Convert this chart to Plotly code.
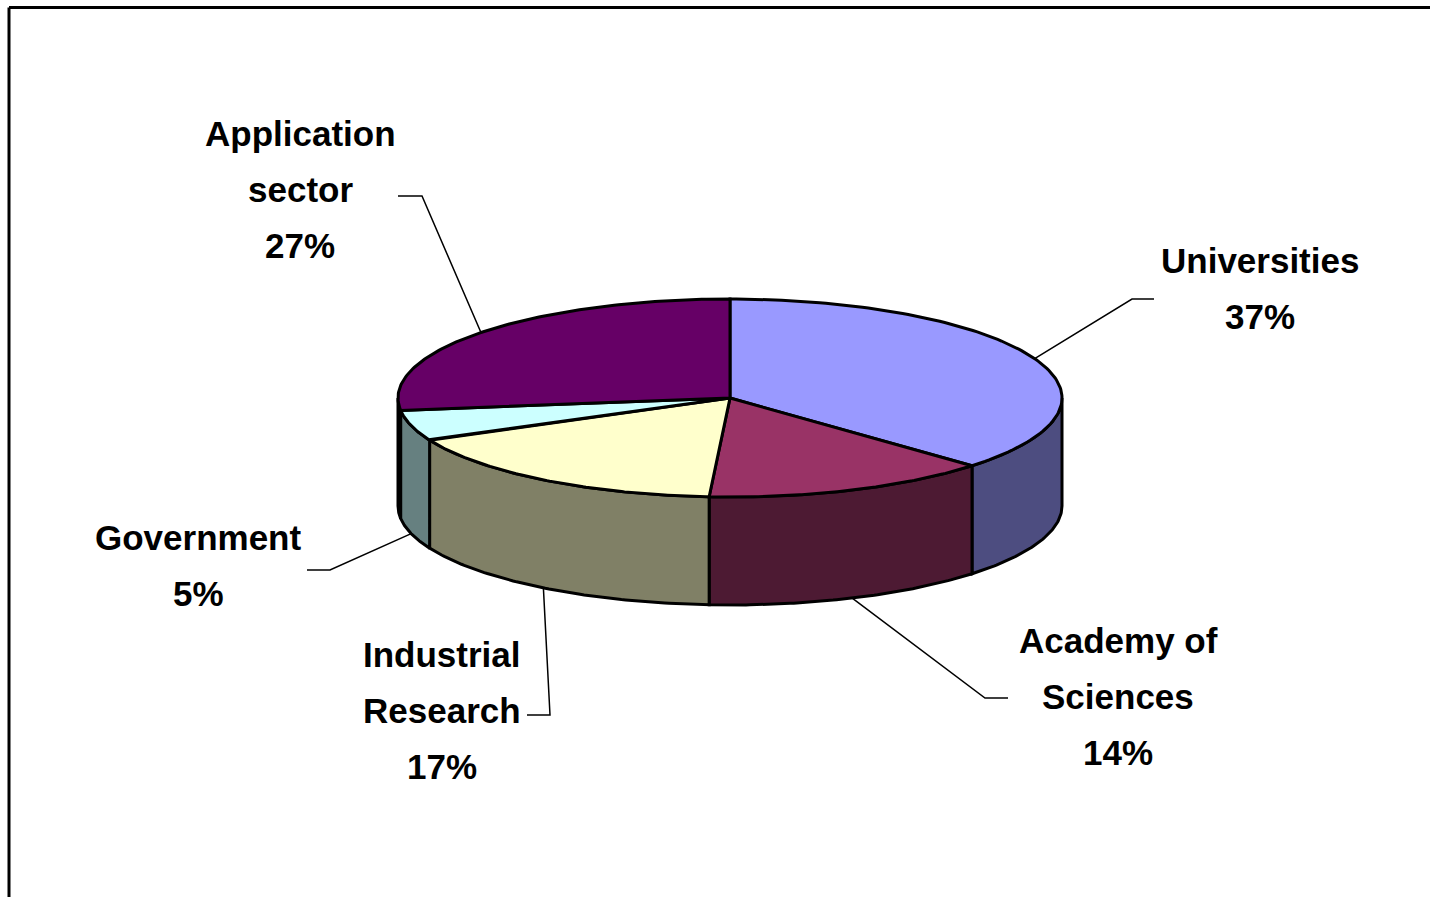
import numpy as np
import plotly.graph_objects as go

# ---- data ----
categories = ["Universities", "Academy of Sciences", "Industrial Research", "Government", "Application sector"]
values = [37, 14, 17, 5, 27]
label_lines = [["Universities"], ["Academy of", "Sciences"], ["Industrial", "Research"], ["Government"], ["Application", "sector"]]
top_colors = ["#9999FF", "#993366", "#FFFFCC", "#CCFFFF", "#660066"]
side_colors = ["#4D4D80", "#4D1A33", "#808066", "#668080", "#330033"]

# ---- layout parameters (pixels) ----
W, H = 1430, 897
CX, CY = 730, 398
A, B = 332, 99
DEPTH = 108
FONT_SIZE = 35
LINE_GAP = 56
# label anchor (x center, y center of first line), leader knee and leader end
label_pos = [(1260, 260), (1118, 640), (442, 654), (198, 537), (300, 133)]
knees = [(1132, 299), (985, 698), (550, 715), (330, 570), (422, 196)]
ends = [(1154, 299), (1008, 698), (527, 715), (307, 570), (398, 196)]


def pt(theta_deg, dy=0.0):
    t = np.radians(theta_deg)
    return CX + A * np.sin(t), CY - B * np.cos(t) + dy


fig = go.Figure()

total = float(sum(values))
bounds = np.concatenate([[0.0], np.cumsum(values) / total * 360.0])

# side walls (front half only: 90..270 deg)
for i in range(len(values)):
    t0, t1 = max(bounds[i], 90.0), min(bounds[i + 1], 270.0)
    if t1 <= t0:
        continue
    th = np.linspace(t0, t1, 80)
    xt, yt = pt(th)
    xb, yb = pt(th[::-1], DEPTH)
    fig.add_trace(go.Scatter(
        x=np.concatenate([xt, xb, xt[:1]]), y=np.concatenate([yt, yb, yt[:1]]),
        mode="lines", fill="toself", fillcolor=side_colors[i],
        line=dict(color="black", width=3), hoverinfo="skip", showlegend=False))

# top faces
for i in range(len(values)):
    th = np.linspace(bounds[i], bounds[i + 1], 120)
    xt, yt = pt(th)
    fig.add_trace(go.Scatter(
        x=np.concatenate([[CX], xt, [CX]]), y=np.concatenate([[CY], yt, [CY]]),
        mode="lines", fill="toself", fillcolor=top_colors[i],
        line=dict(color="black", width=3), hoverinfo="skip", showlegend=False,
        name=categories[i]))

# leader lines
for i in range(len(values)):
    mid = (bounds[i] + bounds[i + 1]) / 2.0
    dy = DEPTH if np.cos(np.radians(mid)) < 0 else 0.0
    sx, sy = pt(mid, dy)
    fig.add_trace(go.Scatter(
        x=[sx, knees[i][0], ends[i][0]], y=[sy, knees[i][1], ends[i][1]],
        mode="lines", line=dict(color="black", width=1.5),
        hoverinfo="skip", showlegend=False))

# labels
for i in range(len(values)):
    lines = label_lines[i] + [f"{values[i]}%"]
    lx, ly = label_pos[i]
    for j, txt in enumerate(lines):
        fig.add_annotation(
            x=lx, y=ly + j * LINE_GAP, text=f"<b>{txt}</b>", showarrow=False,
            xanchor="center", yanchor="middle",
            font=dict(family="Liberation Sans, Arial, sans-serif", size=FONT_SIZE, color="black"))

# chart frame (top and left edges visible)
fig.add_shape(type="line", x0=9, y0=7.5, x1=W, y1=7.5, line=dict(color="black", width=3))
fig.add_shape(type="line", x0=9, y0=7.5, x1=9, y1=H, line=dict(color="black", width=3))

fig.update_layout(
    width=W, height=H, margin=dict(l=0, r=0, t=0, b=0),
    paper_bgcolor="white", plot_bgcolor="white",
    xaxis=dict(range=[0, W], visible=False, fixedrange=True),
    yaxis=dict(range=[H, 0], visible=False, fixedrange=True),
    showlegend=False,
)

fig.write_html("out.html", config={"displayModeBar": False},
               post_script="document.body.style.margin='0';document.body.style.overflow='hidden';")
